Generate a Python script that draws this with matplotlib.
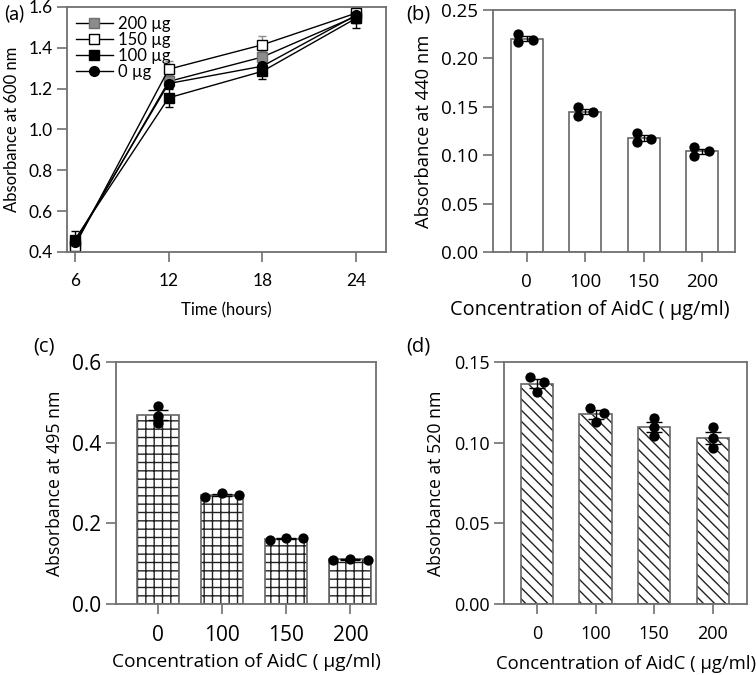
import numpy as np
import matplotlib
matplotlib.use("Agg")
import matplotlib.pyplot as plt
from matplotlib.lines import Line2D

# ---- panel (a): growth curve ----
hours = [6, 12, 18, 24]
growth_labels = ["200 µg", "150 µg", "100 µg", "0 µg"]
growth_200 = [0.44, 1.235, 1.355, 1.555]
growth_150 = [0.43, 1.295, 1.415, 1.570]
growth_100 = [0.46, 1.155, 1.285, 1.545]
growth_0 = [0.45, 1.225, 1.310, 1.560]
err_200 = [0.03, 0.03, 0.03, 0.03]
err_150 = [0.03, 0.04, 0.045, 0.03]
err_100 = [0.045, 0.045, 0.04, 0.05]
err_0 = [0.03, 0.02, 0.03, 0.04]

# ---- panels (b)-(d): replicates per concentration ----
conc_labels = ["0", "100", "150", "200"]
abs_440 = [[0.225, 0.217, 0.219],
           [0.1498, 0.1405, 0.1447],
           [0.123, 0.1137, 0.1167],
           [0.1085, 0.0992, 0.1043]]
abs_495 = [[0.491, 0.466, 0.449],
           [0.265, 0.275, 0.270],
           [0.159, 0.164, 0.163],
           [0.109, 0.112, 0.110]]
abs_520 = [[0.1407, 0.1376, 0.1314],
           [0.1215, 0.1125, 0.1185],
           [0.1153, 0.110, 0.104],
           [0.1097, 0.1029, 0.0967]]

# horizontal scatter of replicate dots (layout only)
jit_b = [[-0.15, -0.15, 0.10], [-0.12, -0.12, 0.13], [-0.12, -0.12, 0.12], [-0.14, -0.14, 0.12]]
jit_c = [[0, 0, 0], [-0.27, 0, 0.27], [-0.25, 0, 0.27], [-0.27, 0, 0.27]]
jit_d = [[-0.12, 0.12, 0], [-0.1, 0, 0.15], [0, 0, 0], [0, 0, 0]]

SPINE = "#707070"
plt.rcParams["hatch.linewidth"] = 1.0

fig = plt.figure(figsize=(7.56, 6.75), dpi=100)


def style_axes(ax, font, size):
    for s in ax.spines.values():
        s.set_color(SPINE)
        s.set_linewidth(1.3)
    ax.tick_params(axis="both", direction="out", length=7, width=1.2, color=SPINE,
                   labelsize=size)
    for lab in ax.get_xticklabels() + ax.get_yticklabels():
        lab.set_fontfamily(font)


# (a)
ax_a = fig.add_axes([0.0886, 0.6267, 0.422, 0.363])
series = [(growth_200, err_200, dict(marker="s", mfc="#8c8c8c", mec="#6e6e6e")),
          (growth_150, err_150, dict(marker="s", mfc="white", mec="black")),
          (growth_100, err_100, dict(marker="s", mfc="black", mec="black")),
          (growth_0, err_0, dict(marker="o", mfc="black", mec="black"))]
handles = []
for (vals, err, mk), lab in zip(series, growth_labels):
    ecol = "#8c8c8c" if mk["mfc"] in ("white", "#8c8c8c") else "black"
    ax_a.errorbar(hours, vals, yerr=err, color="black", lw=1.0, ms=7, mew=1.0,
                  ecolor=ecol, elinewidth=1.0, capsize=3, capthick=1.0, **mk)
    handles.append(Line2D([], [], color="black", lw=1.0, ms=7, mew=1.0, label=lab, **mk))
ax_a.set_xlim(5.5, 25.9)
ax_a.set_ylim(0.4, 1.6)
ax_a.set_xticks(hours)
ax_a.set_yticks([0.4, 0.6, 0.8, 1.0, 1.2, 1.4, 1.6])
ax_a.set_yticklabels(["0.4", "0.6", "0.8", "1.0", "1.2", "1.4", "1.6"])
style_axes(ax_a, "Lato", 12.5)
ax_a.tick_params(axis="x", pad=8)
ax_a.set_xlabel("Time (hours)", fontfamily="Lato", fontsize=12, labelpad=10)
ax_a.set_ylabel("Absorbance at 600 nm", fontfamily="Lato", fontsize=12, labelpad=6)
ax_a.legend(handles=handles, loc="upper left", frameon=False, handlelength=2.2,
            handletextpad=0.3, labelspacing=0.0, borderaxespad=0.1, borderpad=0.45,
            prop={"family": "Lato", "size": 12})
fig.text(0.006, 0.981, "(a)", fontfamily="Lato", fontsize=14, va="center")


def bar_panel(rect, reps, jit, ylim, yticks, ylabel, hatch, xlim, width,
              tick_size, ylsize, xlsize, xlpad, cap, tag, tagpos):
    ax = fig.add_axes(rect)
    x = np.arange(len(conc_labels))
    arr = np.array(reps)
    means = arr.mean(axis=1)
    sems = arr.std(axis=1, ddof=1) / np.sqrt(arr.shape[1])
    if hatch:
        ax.bar(x, means, width=width, color="white", edgecolor="#222222", linewidth=0,
               hatch=hatch, zorder=2)
        ax.bar(x, means, width=width, fill=False, edgecolor="#666666", linewidth=1.2,
               zorder=2.5)
    else:
        ax.bar(x, means, width=width, color="white", edgecolor="#666666", linewidth=1.2,
               zorder=2)
    ax.errorbar(x, means, yerr=sems, fmt="none", ecolor="black", elinewidth=1.0,
                capsize=cap, capthick=1.0, zorder=3)
    for i in range(len(x)):
        ax.scatter(x[i] + np.array(jit[i]), reps[i], s=55, color="black", zorder=4,
                   linewidths=0)
    ax.set_xlim(*xlim)
    ax.set_ylim(*ylim)
    ax.set_xticks(x)
    ax.set_xticklabels(conc_labels)
    ax.set_yticks(yticks)
    style_axes(ax, "Open Sans", tick_size)
    ax.tick_params(axis="x", pad=8)
    ax.set_ylabel(ylabel, fontfamily="Open Sans", fontsize=ylsize, labelpad=6)
    ax.set_xlabel("Concentration of AidC ( µg/ml)", fontfamily="Open Sans",
                  fontsize=xlsize, labelpad=xlpad)
    fig.text(tagpos[0], tagpos[1], tag, fontfamily="Open Sans", fontsize=14.5, va="center")
    return ax


ax_b = bar_panel([0.652, 0.6267, 0.320, 0.3585], abs_440, jit_b, (0, 0.25),
                 [0, 0.05, 0.10, 0.15, 0.20, 0.25], "Absorbance at 440 nm", None,
                 (-0.58, 3.56), 0.55, 13.5, 13.2, 14.3, 5, 5, "(b)", (0.538, 0.978))
ax_b.set_yticklabels(["0.00", "0.05", "0.10", "0.15", "0.20", "0.25"])
ax_b.xaxis.set_label_coords(0.40, -0.20)

ax_c = bar_panel([0.1534, 0.1052, 0.344, 0.3585], abs_495, jit_c, (0, 0.6),
                 [0, 0.2, 0.4, 0.6], "Absorbance at 495 nm", "++",
                 (-0.65, 3.4), 0.65, 15, 12.7, 13.8, 5, 7.5, "(c)", (0.044, 0.486))
ax_c.set_yticklabels(["0.0", "0.2", "0.4", "0.6"])

ax_d = bar_panel([0.6667, 0.1052, 0.3214, 0.3585], abs_520, jit_d, (0, 0.15),
                 [0, 0.05, 0.10, 0.15], "Absorbance at 520 nm", "\\\\\\",
                 (-0.56, 3.58), 0.55, 13, 12.7, 13.3, 9, 5.5, "(d)", (0.537, 0.486))
ax_d.set_yticklabels(["0.00", "0.05", "0.10", "0.15"])

fig.savefig("out.png", dpi=100)
